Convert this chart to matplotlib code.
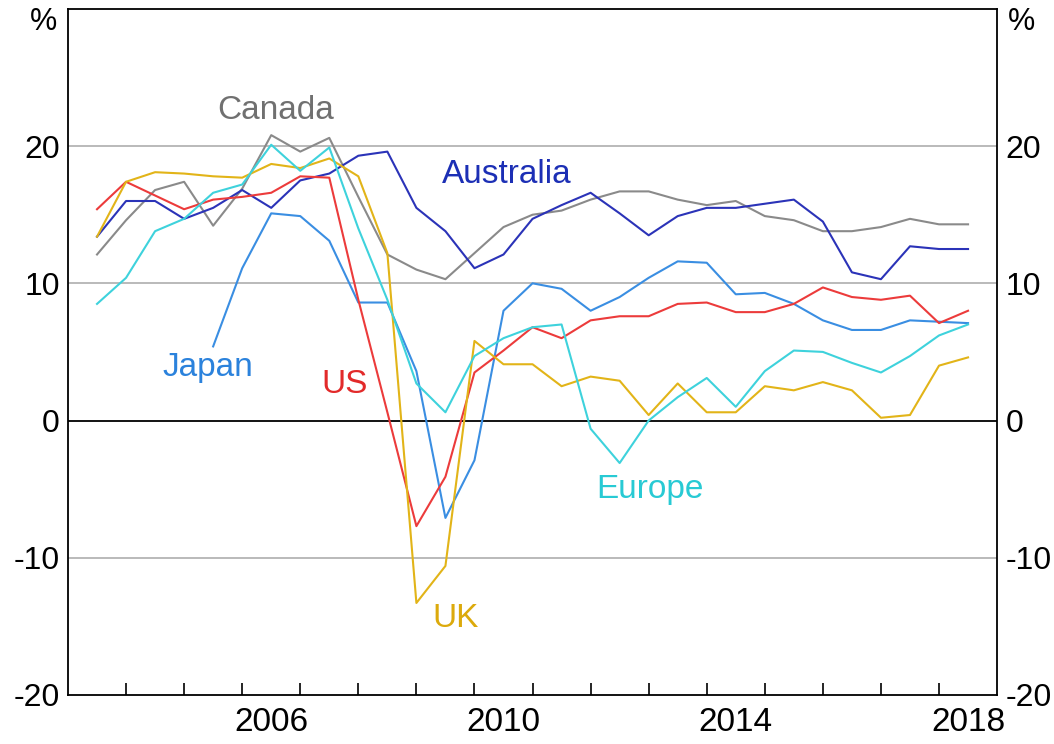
import numpy as np
import matplotlib.pyplot as plt

plt.rcParams['font.family'] = ['Liberation Sans', 'DejaVu Sans']

# half-yearly observations, 2003.5 .. 2018.5
years = [2003.5 + 0.5 * i for i in range(31)]

canada = [12.1, 14.6, 16.8, 17.4, 14.2, 16.9, 20.8, 19.6, 20.6, 16.3, 12.1,
          11.0, 10.3, 12.2, 14.1, 15.0, 15.3, 16.1, 16.7, 16.7, 16.1, 15.7,
          16.0, 14.9, 14.6, 13.8, 13.8, 14.1, 14.7, 14.3, 14.3]
australia = [13.4, 16.0, 16.0, 14.7, 15.5, 16.8, 15.5, 17.5, 18.0, 19.3, 19.6,
             15.5, 13.8, 11.1, 12.1, 14.7, 15.7, 16.6, 15.1, 13.5, 14.9, 15.5,
             15.5, 15.8, 16.1, 14.5, 10.8, 10.3, 12.7, 12.5, 12.5]
japan = [np.nan, np.nan, np.nan, np.nan, 5.4, 11.1, 15.1, 14.9, 13.1, 8.6, 8.6,
         3.6, -7.1, -2.9, 8.0, 10.0, 9.6, 8.0, 9.0, 10.4, 11.6, 11.5,
         9.2, 9.3, 8.5, 7.3, 6.6, 6.6, 7.3, 7.2, 7.1]
us = [15.4, 17.4, 16.4, 15.4, 16.1, 16.3, 16.6, 17.8, 17.7, 8.8, 0.6,
      -7.7, -4.1, 3.5, 5.1, 6.8, 6.0, 7.3, 7.6, 7.6, 8.5, 8.6,
      7.9, 7.9, 8.5, 9.7, 9.0, 8.8, 9.1, 7.1, 8.0]
uk = [13.4, 17.4, 18.1, 18.0, 17.8, 17.7, 18.7, 18.4, 19.1, 17.8, 12.2,
      -13.3, -10.6, 5.8, 4.1, 4.1, 2.5, 3.2, 2.9, 0.4, 2.7, 0.6,
      0.6, 2.5, 2.2, 2.8, 2.2, 0.2, 0.4, 4.0, 4.6]
europe = [8.5, 10.4, 13.8, 14.7, 16.6, 17.2, 20.1, 18.2, 19.9, 14.0, 8.8,
          2.7, 0.6, 4.7, 6.0, 6.8, 7.0, -0.6, -3.1, 0.0, 1.7, 3.1,
          1.0, 3.6, 5.1, 5.0, 4.2, 3.5, 4.7, 6.2, 7.0]

yticks = [-20, -10, 0, 10, 20]
xlabels = ['2006', '2010', '2014', '2018']

fig = plt.figure(figsize=(10.54, 7.44), dpi=100)
ax = fig.add_axes([0.0645, 0.066, 0.8815, 0.922])

for v in [-10, 10, 20]:
    ax.axhline(v, color='#b4b4b4', lw=1.3, zorder=1)
ax.axhline(0, color='black', lw=1.3, zorder=1)

lw = 1.5
ax.plot(years, canada, color='#8a8a8a', lw=lw, zorder=3)
ax.plot(years, australia, color='#2b33b8', lw=lw, zorder=3)
ax.plot(years, japan, color='#3a8ee2', lw=lw, zorder=3)
ax.plot(years, us, color='#ec3b3b', lw=lw, zorder=3)
ax.plot(years, uk, color='#e2b418', lw=lw, zorder=3)
ax.plot(years, europe, color='#3ed2dc', lw=lw, zorder=3)

fs = 24
ax.text(2006.58, 21.95, 'Canada', color='#707070', fontsize=fs, ha='center', va='baseline')
ax.text(2010.56, 17.3, 'Australia', color='#1c2fb5', fontsize=fs, ha='center', va='baseline')
ax.text(2005.41, 3.25, 'Japan', color='#2b82dc', fontsize=fs, ha='center', va='baseline')
ax.text(2007.77, 2.0, 'US', color='#e22a2a', fontsize=fs, ha='center', va='baseline')
ax.text(2009.67, -15.05, 'UK', color='#dcaa0c', fontsize=fs, ha='center', va='baseline')
ax.text(2013.02, -5.65, 'Europe', color='#28cad4', fontsize=fs, ha='center', va='baseline')

ax.set_xlim(2003, 2019)
ax.set_ylim(-20, 30)

ax.set_xticks(range(2004, 2019))
ax.set_xticklabels([])
ax.set_xticks([2006.5, 2010.5, 2014.5, 2018.5], minor=True)
ax.set_xticklabels(xlabels, minor=True, fontsize=fs)
ax.tick_params(axis='x', which='major', direction='in', length=9, width=1.2, color='black')
ax.tick_params(axis='x', which='minor', length=0, pad=9)

ax.set_yticks(yticks)
ax.set_yticklabels([str(t) for t in yticks], fontsize=23)
ax.tick_params(axis='y', which='both', length=0, pad=6, labelright=True)

for s in ax.spines.values():
    s.set_linewidth(1.3)
    s.set_color('black')

ax.text(-0.012, 0.981, '%', transform=ax.transAxes, ha='right', va='center', fontsize=22)
ax.text(1.012, 0.981, '%', transform=ax.transAxes, ha='left', va='center', fontsize=22)

fig.savefig('out.png', dpi=100)
